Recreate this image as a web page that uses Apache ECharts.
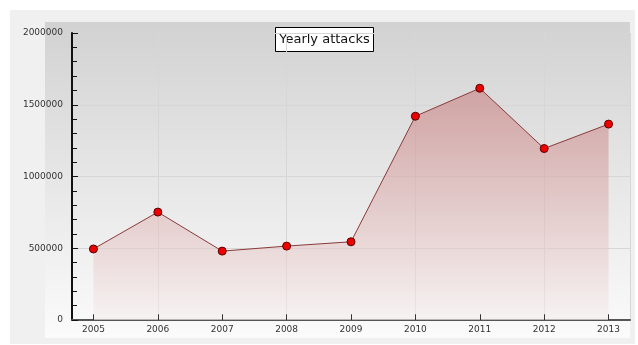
<!DOCTYPE html>
<html lang="en">
<head>
    <meta charset="UTF-8">
    <title>Yearly attacks</title>
    <script src="https://cdn.jsdelivr.net/npm/echarts@6/dist/echarts.min.js"></script>
    <style>
        body { margin: 0; background: #fff; }
    </style>
</head>
<body>
<div id="main" style="width: 638px;height:345px"></div>
<script>
    const years = [2005, 2006, 2007, 2008, 2009, 2010, 2011, 2012, 2013]
    const attacks = [495000, 752000, 480000, 515000, 545000, 1420000, 1615000, 1195000, 1365000]
    const yTicks = [0, 500000, 1000000, 1500000, 2000000]

    const myChart = echarts.init(document.getElementById('main'))
    const font = 'DejaVu Sans'

    const option = {
        animation: false,
        backgroundColor: '#ffffff',
        graphic: [
            {
                type: 'rect', z: -10, silent: true,
                shape: {x: 10, y: 10, width: 625, height: 334},
                style: {fill: '#f0f0f0'}
            },
            {
                type: 'rect', z: -9, silent: true,
                shape: {x: 45, y: 22, width: 585, height: 316},
                style: {
                    fill: new echarts.graphic.LinearGradient(0, 0, 0, 1, [
                        {offset: 0, color: '#d2d2d2'},
                        {offset: 1, color: '#fbfbfb'}
                    ])
                }
            },
            {
                type: 'group', left: 275, top: 27, z: 100,
                children: [
                    {
                        type: 'rect',
                        shape: {x: 0, y: 0, width: 98, height: 24},
                        style: {fill: '#ffffff', stroke: '#000000', lineWidth: 1}
                    },
                    {
                        type: 'text', x: 49, y: 12,
                        style: {
                            text: 'Yearly attacks', fill: '#111', font: '13px ' + font,
                            align: 'center', verticalAlign: 'middle'
                        }
                    }
                ]
            }
        ],
        grid: {left: 72, right: 8, top: 33, bottom: 25},
        xAxis: {
            type: 'value',
            min: 2004.667,
            max: 2013.333,
            axisLine: {lineStyle: {color: '#555', width: 2}},
            axisTick: {show: false},
            axisLabel: {customValues: years, color: '#333', fontSize: 9, fontFamily: font, margin: 5, formatter: v => String(v)},
            splitLine: {show: true, lineStyle: {color: '#d6d6d6', width: 1}}
        },
        yAxis: {
            type: 'value',
            min: yTicks[0],
            max: yTicks[yTicks.length - 1],
            interval: 500000,
            axisLine: {show: true, lineStyle: {color: '#111', width: 2}},
            axisTick: {show: true, inside: true, length: 6, lineStyle: {color: '#111'}},
            minorTick: {show: true, splitNumber: 5, length: 5, lineStyle: {color: '#111'}},
            axisLabel: {color: '#333', fontSize: 9, fontFamily: font, margin: 9, formatter: v => String(v)},
            splitLine: {show: true, lineStyle: {color: '#d6d6d6', width: 1}}
        },
        series: [
            {
                type: 'line',
                data: years.map((y, i) => [y, attacks[i]]),
                symbol: 'circle',
                symbolSize: 8,
                z: 3,
                itemStyle: {color: '#ee0000', borderColor: '#5a0000', borderWidth: 1},
                lineStyle: {color: '#8a3a3a', width: 1},
                areaStyle: {
                    color: new echarts.graphic.LinearGradient(0, 0, 0, 1, [
                        {offset: 0, color: 'rgba(200, 125, 125, 0.85)'},
                        {offset: 1, color: 'rgba(245, 238, 238, 0.9)'}
                    ])
                },
                // x-axis ticks at each year, pointing up from the axis
                markLine: {
                    silent: true,
                    symbol: 'none',
                    label: {show: false},
                    lineStyle: {color: '#333', type: 'solid', width: 1},
                    data: years.map(y => [{coord: [y, 0]}, {coord: [y, 40000]}])
                }
            }
        ]
    }
    myChart.setOption(option)
</script>
</body>
</html>
